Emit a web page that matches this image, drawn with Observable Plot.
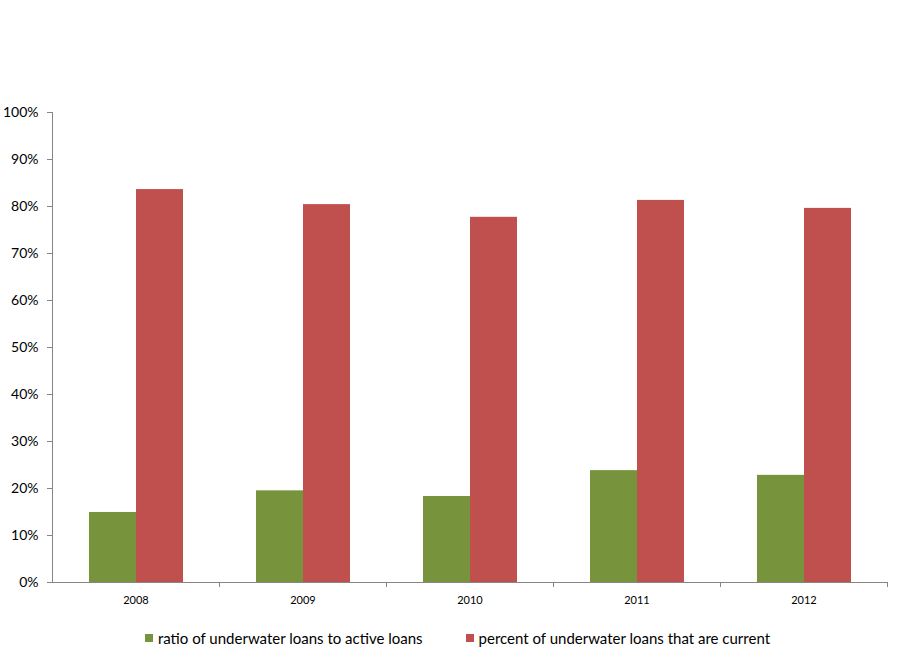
<!DOCTYPE html>
<html>
<head>
<meta charset="utf-8">
<script src="https://cdn.jsdelivr.net/npm/d3@7"></script>
<script src="https://cdn.jsdelivr.net/npm/@observablehq/plot@0.6"></script>
<style>
  body { margin: 0; background: #fff; font-family: Lato, "Noto Sans", sans-serif; }
  #chart svg { display: block; }
  #legend { display: flex; justify-content: center; gap: 43px; font-size: 15px; line-height: 18px; margin-top: 17px; color: #000; padding-left: 5px; }
  .item { display: flex; align-items: center; }
  .sw { width: 8px; height: 8px; margin-right: 5px; }
</style>
</head>
<body>
<div id="chart"></div>
<div id="legend"></div>
<script>
const years = ["2008", "2009", "2010", "2011", "2012"];
const seriesNames = ["ratio of underwater loans to active loans", "percent of underwater loans that are current"];
const underwaterRatio = [0.149, 0.195, 0.183, 0.238, 0.228];
const percentCurrent = [0.836, 0.804, 0.777, 0.813, 0.796];
const yTicks = [0, 0.1, 0.2, 0.3, 0.4, 0.5, 0.6, 0.7, 0.8, 0.9, 1.0];
const colors = ["#77933C", "#C0504D"];

const data = years.flatMap((y, i) => [
  {year: y, series: seriesNames[0], value: underwaterRatio[i]},
  {year: y, series: seriesNames[1], value: percentCurrent[i]}
]);

const axisColor = "#868686";
const W = 910, ML = 52, MR = 23;
const facetStep = (W - ML - MR) / years.length;

const chart = Plot.plot({
  width: W,
  height: 612,
  marginTop: 112,
  marginBottom: 30,
  marginLeft: ML,
  marginRight: MR,
  style: {fontFamily: "Lato, 'Noto Sans', sans-serif", color: "#000", background: "#fff"},
  fx: {domain: years, padding: 0, label: null},
  x: {domain: seriesNames, paddingInner: 0, paddingOuter: 0.74, axis: null},
  y: {domain: [0, 1], label: null},
  color: {domain: seriesNames, range: colors},
  marks: [
    Plot.barY(data, {fx: "year", x: "series", y: "value", fill: "series"}),
    Plot.ruleY([0], {stroke: axisColor}),
    Plot.frame({anchor: "left", stroke: axisColor, facetAnchor: "left"}),
    Plot.axisY({ticks: yTicks, tickFormat: d3.format(".0%"), tickSize: 5, tickPadding: 9, stroke: axisColor, fontSize: 14, anchor: "left", label: null}),
    Plot.axisFx({anchor: "bottom", tickSize: 0, tickPadding: 14, fontSize: 11, label: null}),
    Plot.axisFx({anchor: "bottom", tickSize: 5, tickFormat: () => "", dx: facetStep / 2, stroke: axisColor, label: null})
  ]
});
document.getElementById("chart").appendChild(chart);

const legend = d3.select("#legend");
seriesNames.forEach((name, i) => {
  const it = legend.append("div").attr("class", "item");
  it.append("div").attr("class", "sw").style("background", colors[i]);
  it.append("span").text(name);
});
</script>
</body>
</html>
